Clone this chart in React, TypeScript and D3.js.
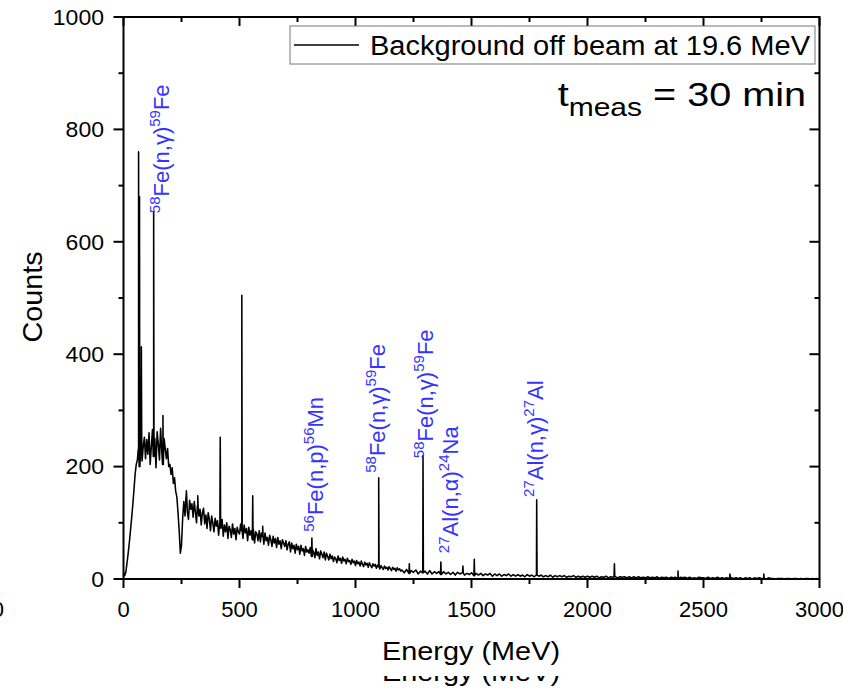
import React from "react";
import * as d3 from "d3";

// ---------- data ----------
const xTicks = [0, 500, 1000, 1500, 2000, 2500, 3000];
const yTicks = [0, 200, 400, 600, 800, 1000];

// continuum, segment A: 0..1195 keV, 5 keV bins
const segAStart = 0;
const segAStep = 5;
const segACounts = [
  12, 6, 12, 28, 45, 64, 86, 108, 132, 158, 186, 204, 212, 230, 200, 242, 210, 236, 252, 214,
  248, 222, 260, 204, 236, 266, 218, 250, 198, 262, 240, 212, 268, 226, 204, 250, 232, 214, 232, 200,
  204, 186, 198, 170, 180, 156, 146, 118, 86, 46, 60, 108, 138, 112, 146, 120, 106, 140, 124, 134,
  110, 138, 118, 100, 130, 112, 124, 96, 118, 126, 98, 114, 90, 118, 106, 86, 112, 100, 84, 108,
  94, 104, 78, 100, 90, 106, 76, 96, 84, 100, 72, 94, 88, 74, 98, 80, 90, 70, 92, 84,
  80, 98, 86, 72, 96, 82, 90, 68, 92, 78, 86, 70, 88, 64, 84, 80, 68, 86, 66, 82,
  76, 62, 82, 68, 74, 60, 78, 70, 58, 76, 64, 72, 56, 74, 62, 68, 54, 70, 64, 58,
  68, 52, 62, 66, 48, 64, 54, 60, 46, 62, 52, 58, 44, 60, 50, 54, 42, 58, 48, 52,
  46, 56, 40, 52, 48, 38, 54, 42, 48, 36, 50, 44, 38, 48, 34, 46, 40, 34, 44, 36,
  41, 31, 39, 36, 29, 41, 33, 37, 28, 39, 32, 35, 27, 37, 31, 33, 26, 35, 29, 32,
  24, 33, 27, 30, 23, 32, 26, 22, 30, 25, 28, 21, 29, 24, 20, 27, 23, 26, 19, 25,
  22, 18, 24, 20, 17, 23, 19, 21, 16, 22, 18, 15, 21, 17, 19, 14, 20, 16, 18, 14,
];

// continuum, segment B: 1200..2990 keV, 10 keV bins
const segBStart = 1200;
const segBStep = 10;
const segBCounts = [
  16, 11, 17, 10, 15, 12, 16, 9, 14, 11, 14, 9, 15, 9, 13, 10, 13, 8, 13, 9,
  12, 8, 12, 7, 12, 9, 11, 7, 10, 8, 11, 6, 10, 7, 10, 6, 9, 7, 10, 5,
  9, 6, 9, 5, 8, 6, 9, 5, 8, 5, 8, 5, 7, 4, 8, 5, 7, 4, 7, 5,
  7, 4, 6, 4, 7, 3, 6, 4, 6, 4, 6, 3, 5, 4, 6, 3, 5, 3, 5, 3,
  5, 3, 5, 3, 5, 2, 4, 3, 5, 2, 4, 3, 4, 2, 4, 3, 4, 2, 4, 2,
  4, 2, 4, 2, 3, 2, 4, 2, 3, 2, 4, 1, 3, 2, 3, 1, 3, 2, 3, 1,
  3, 2, 3, 1, 3, 1, 2, 1, 3, 2, 2, 1, 3, 1, 2, 1, 3, 1, 2, 1,
  2, 1, 2, 1, 2, 1, 2, 0, 2, 1, 2, 0, 2, 1, 2, 1, 1, 0, 2, 1,
  1, 0, 1, 1, 1, 0, 1, 1, 0, 1, 1, 0, 1, 0, 1, 1, 0, 1, 0, 1,
];

// sharp gamma lines
const peakEnergies = [65, 69, 77, 130, 170, 271, 320, 417, 510, 557, 600, 812, 1100, 1232, 1291, 1368, 1463, 1512, 1781, 2116, 2390, 2614, 2760];
const peakCounts = [760, 680, 413, 652, 291, 157, 148, 252, 505, 148, 94, 73, 180, 27, 220, 30, 23, 35, 141, 27, 14, 9, 9];

// annotations: segments alternate superscript / normal, starting with superscript
const labelParts = [
  ["58", "Fe(n,γ)", "59", "Fe"],
  ["56", "Fe(n,p)", "56", "Mn"],
  ["58", "Fe(n,γ)", "59", "Fe"],
  ["58", "Fe(n,γ)", "59", "Fe"],
  ["27", "Al(n,α)", "24", "Na"],
  ["27", "Al(n,γ)", "27", "Al"],
];
const labelEnergies = [196, 860, 1127, 1334, 1442, 1808];
const labelCounts = [651, 84, 189, 215, 46, 146];

const legendText = "Background off beam at 19.6 MeV";
const xLabel = "Energy (MeV)";
const yLabel = "Counts";

// ---------- layout ----------
const W = 843;
const H = 688;
const M = { left: 123.5, right: 819.5, top: 17, bottom: 579 };
const FONT = "'Liberation Sans', Arial, Helvetica, sans-serif";
const BLUE = "#3434FF";

function buildSpectrum(): [number, number][] {
  const cont: [number, number][] = [];
  segACounts.forEach((c, i) => cont.push([segAStart + i * segAStep, c]));
  segBCounts.forEach((c, i) => cont.push([segBStart + i * segBStep, c]));
  const nearest = (e: number) => {
    let best = cont[0];
    for (const p of cont) if (Math.abs(p[0] - e) < Math.abs(best[0] - e)) best = p;
    return best[1];
  };
  const pts = cont.slice();
  peakEnergies.forEach((e, i) => {
    const b = nearest(e);
    pts.push([e - 1.6, b], [e, peakCounts[i]], [e + 1.6, b]);
  });
  pts.sort((a, b) => a[0] - b[0]);
  return pts;
}

export default function App() {
  const x = d3.scaleLinear().domain([0, 3000]).range([M.left, M.right]);
  const y = d3.scaleLinear().domain([0, 1000]).range([M.bottom, M.top]);
  const data = buildSpectrum();
  const line = d3
    .line<[number, number]>()
    .x((d) => x(d[0]))
    .y((d) => y(d[1]));

  const xMinor = d3.range(0, 3001, 250);
  const yMinor = d3.range(0, 1001, 100);
  const isMajorX = (v: number) => v % 500 === 0;
  const isMajorY = (v: number) => v % 200 === 0;
  const axisStroke = 2;

  return (
    <svg
      width={W}
      height={H}
      style={{ position: "absolute", left: 0, top: 0, display: "block", background: "#fff" }}
      fontFamily={FONT}
    >
      <defs>
        <clipPath id="cutBottom">
          <rect x={0} y={676} width={W} height={20} />
        </clipPath>
      </defs>
      <rect x={0} y={0} width={W} height={H} fill="#fff" />

      {/* spectrum */}
      <path d={line(data) || ""} fill="none" stroke="#000" strokeWidth={1.55} strokeLinejoin="round" />

      {/* frame */}
      <rect
        x={M.left}
        y={M.top}
        width={M.right - M.left}
        height={M.bottom - M.top}
        fill="none"
        stroke="#000"
        strokeWidth={axisStroke}
      />

      {/* bottom ticks (outward) and top ticks (inward) */}
      {xMinor.map((v) => {
        const len = isMajorX(v) ? 9 : 5;
        return (
          <g key={"xt" + v}>
            <line x1={x(v)} x2={x(v)} y1={M.bottom} y2={M.bottom + len} stroke="#000" strokeWidth={axisStroke} />
            <line x1={x(v)} x2={x(v)} y1={M.top} y2={M.top + len} stroke="#000" strokeWidth={axisStroke} />
          </g>
        );
      })}
      {/* left ticks (outward) and right ticks (inward) */}
      {yMinor.map((v) => {
        const len = isMajorY(v) ? 10 : 5;
        return (
          <g key={"yt" + v}>
            <line x1={M.left - len} x2={M.left} y1={y(v)} y2={y(v)} stroke="#000" strokeWidth={axisStroke} />
            <line x1={M.right - len} x2={M.right} y1={y(v)} y2={y(v)} stroke="#000" strokeWidth={axisStroke} />
          </g>
        );
      })}

      {/* tick labels */}
      {xTicks.map((v) => (
        <text key={"xl" + v} x={x(v)} y={617} fontSize={22} textAnchor="middle" fill="#000">
          {v}
        </text>
      ))}
      {yTicks.map((v) => (
        <text
          key={"yl" + v}
          x={104}
          y={y(v) + 7.8}
          fontSize={22}
          textAnchor="end"
          fill="#000"
          textLength={String(v).length * 12.8}
          lengthAdjust="spacingAndGlyphs"
        >
          {v}
        </text>
      ))}

      {/* axis titles */}
      <text x={471} y={660} fontSize={26} textAnchor="middle" textLength={178} lengthAdjust="spacingAndGlyphs">
        {xLabel}
      </text>
      <g clipPath="url(#cutBottom)">
        <text x={471} y={681} fontSize={26} textAnchor="middle" textLength={178} lengthAdjust="spacingAndGlyphs">
          {xLabel}
        </text>
      </g>
      <text
        transform={`translate(42,297) rotate(-90)`}
        fontSize={28}
        textAnchor="middle"
        textLength={91}
        lengthAdjust="spacingAndGlyphs"
      >
        {yLabel}
      </text>
      {/* stray fragment at the left edge */}
      <text x={4} y={617} fontSize={22} textAnchor="end">
        0
      </text>

      {/* legend */}
      <rect x={290} y={26} width={525} height={38} fill="#fff" stroke="#777" strokeWidth={1} />
      <line x1={294} x2={359} y1={45} y2={45} stroke="#000" strokeWidth={1.3} />
      <text x={370} y={55} fontSize={27} textLength={440} lengthAdjust="spacingAndGlyphs">
        {legendText}
      </text>

      {/* measurement time */}
      <g transform="translate(806,106) scale(1.2,1)">
        <text x={0} y={0} fontSize={33} textAnchor="end">
          t
          <tspan fontSize={25} dy={10}>
            meas
          </tspan>
          <tspan dy={-10}> = 30 min</tspan>
        </text>
      </g>

      {/* peak annotations */}
      {labelParts.map((parts, i) => (
        <text
          key={"lab" + i}
          transform={`translate(${x(labelEnergies[i])},${y(labelCounts[i])}) rotate(-90)`}
          fontSize={22}
          fill={BLUE}
        >
          {parts.map((p, j) =>
            j % 2 === 0 ? (
              <tspan key={j} fontSize={15} dy={-9}>
                {p}
              </tspan>
            ) : (
              <tspan key={j} dy={9}>
                {p}
              </tspan>
            )
          )}
        </text>
      ))}
    </svg>
  );
}
